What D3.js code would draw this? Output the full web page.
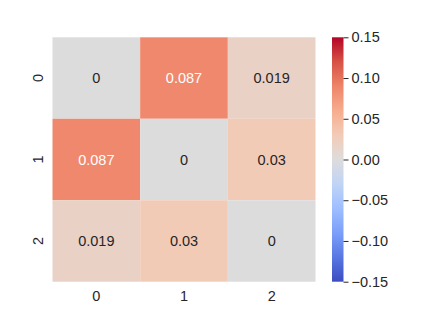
<!DOCTYPE html>
<html>
<head>
<meta charset="utf-8">
<script src="https://cdn.jsdelivr.net/npm/d3@7"></script>
<style>
  body { margin: 0; background: #fff; }
  text { font-family: "Liberation Sans", Arial, sans-serif; }
</style>
</head>
<body>
<svg id="chart"></svg>
<script>
const rowLabels = ["0", "1", "2"];
const colLabels = ["0", "1", "2"];
const values = [
  [0, 0.087, 0.019],
  [0.087, 0, 0.03],
  [0.019, 0.03, 0]
];
const cbarTicks = [-0.15, -0.10, -0.05, 0, 0.05, 0.10, 0.15];

// matplotlib coolwarm, 11 samples
const coolwarmStops = ["#3b4cc0", "#5977e3", "#7b9ff9", "#9ebeff", "#c0d4f5", "#dddcdc",
  "#f2cbb7", "#f7ac8e", "#ee8468", "#d65244", "#b40426"];

const w = 423;
const h = 317;
const mLeft = 52.5, mRight = 315.5, mTop = 37.3, mBottom = 281.7;
const fs = 14.5;

const svg = d3.select("#chart")
  .attr("width", w)
  .attr("height", h);

const coolwarm = d3.scaleLinear()
  .domain(d3.range(coolwarmStops.length).map(i => -0.15 + 0.3 * i / (coolwarmStops.length - 1)))
  .range(coolwarmStops)
  .interpolate(d3.interpolateRgb)
  .clamp(true);

const xScale = d3.scaleBand().domain(colLabels).range([mLeft, mRight]);
const yScale = d3.scaleBand().domain(rowLabels).range([mTop, mBottom]);

const cells = [];
values.forEach((row, i) => row.forEach((v, j) => cells.push({ r: rowLabels[i], c: colLabels[j], v })));

const fmt = d3.format(".2~g");

svg.selectAll("rect.cell")
  .data(cells)
  .enter()
  .append("rect")
  .attr("class", "cell")
  .attr("x", d => xScale(d.c))
  .attr("y", d => yScale(d.r))
  .attr("width", xScale.bandwidth())
  .attr("height", yScale.bandwidth())
  .attr("fill", d => coolwarm(d.v));

// seaborn picks white text on dark cells
const textColor = (v) => {
  const c = d3.rgb(coolwarm(v));
  const lin = x => { x /= 255; return x <= 0.03928 ? x / 12.92 : Math.pow((x + 0.055) / 1.055, 2.4); };
  const lum = 0.2126 * lin(c.r) + 0.7152 * lin(c.g) + 0.0722 * lin(c.b);
  return lum > 0.408 ? "#262626" : "#ffffff";
};

svg.selectAll("text.annot")
  .data(cells)
  .enter()
  .append("text")
  .attr("class", "annot")
  .attr("x", d => xScale(d.c) + xScale.bandwidth() / 2)
  .attr("y", d => yScale(d.r) + yScale.bandwidth() / 2)
  .attr("text-anchor", "middle")
  .attr("dominant-baseline", "central")
  .attr("font-size", fs)
  .attr("fill", d => textColor(d.v))
  .text(d => fmt(d.v));

// x axis labels
const xAxis = d3.axisBottom(xScale).tickSize(0).tickPadding(9);
const gx = svg.append("g")
  .attr("transform", "translate(0," + mBottom + ")")
  .call(xAxis);
gx.select(".domain").remove();
gx.selectAll("text").attr("font-size", fs).attr("fill", "#262626").attr("font-family", null);

// y axis labels, rotated
const gy = svg.append("g");
gy.selectAll("text")
  .data(rowLabels)
  .enter()
  .append("text")
  .attr("transform", d => "translate(42.5," + (yScale(d) + yScale.bandwidth() / 2) + ") rotate(-90)")
  .attr("text-anchor", "middle")
  .attr("font-size", fs)
  .attr("fill", "#262626")
  .text(d => d);

// colorbar
const cbX = 332, cbW = 11.5;
const cbScale = d3.scaleLinear().domain([-0.15, 0.15]).range([mBottom, mTop]);

const defs = svg.append("defs");
const grad = defs.append("linearGradient")
  .attr("id", "cbgrad")
  .attr("x1", 0).attr("y1", 1).attr("x2", 0).attr("y2", 0);
coolwarmStops.forEach((c, i) => {
  grad.append("stop")
    .attr("offset", i / (coolwarmStops.length - 1))
    .attr("stop-color", c);
});

svg.append("rect")
  .attr("x", cbX)
  .attr("y", mTop)
  .attr("width", cbW)
  .attr("height", mBottom - mTop)
  .attr("fill", "url(#cbgrad)");

const cbAxis = d3.axisRight(cbScale)
  .tickValues(cbarTicks)
  .tickSize(5)
  .tickPadding(3)
  .tickFormat(d => d3.format(".2f")(d).replace("-", "\u2212"));

const gc = svg.append("g")
  .attr("transform", "translate(" + (cbX + cbW) + ",0)")
  .call(cbAxis);
gc.select(".domain").remove();
gc.selectAll("line").attr("stroke", "#262626").attr("stroke-width", 1);
gc.selectAll("text").attr("font-size", fs).attr("fill", "#262626").attr("font-family", null);
</script>
</body>
</html>
